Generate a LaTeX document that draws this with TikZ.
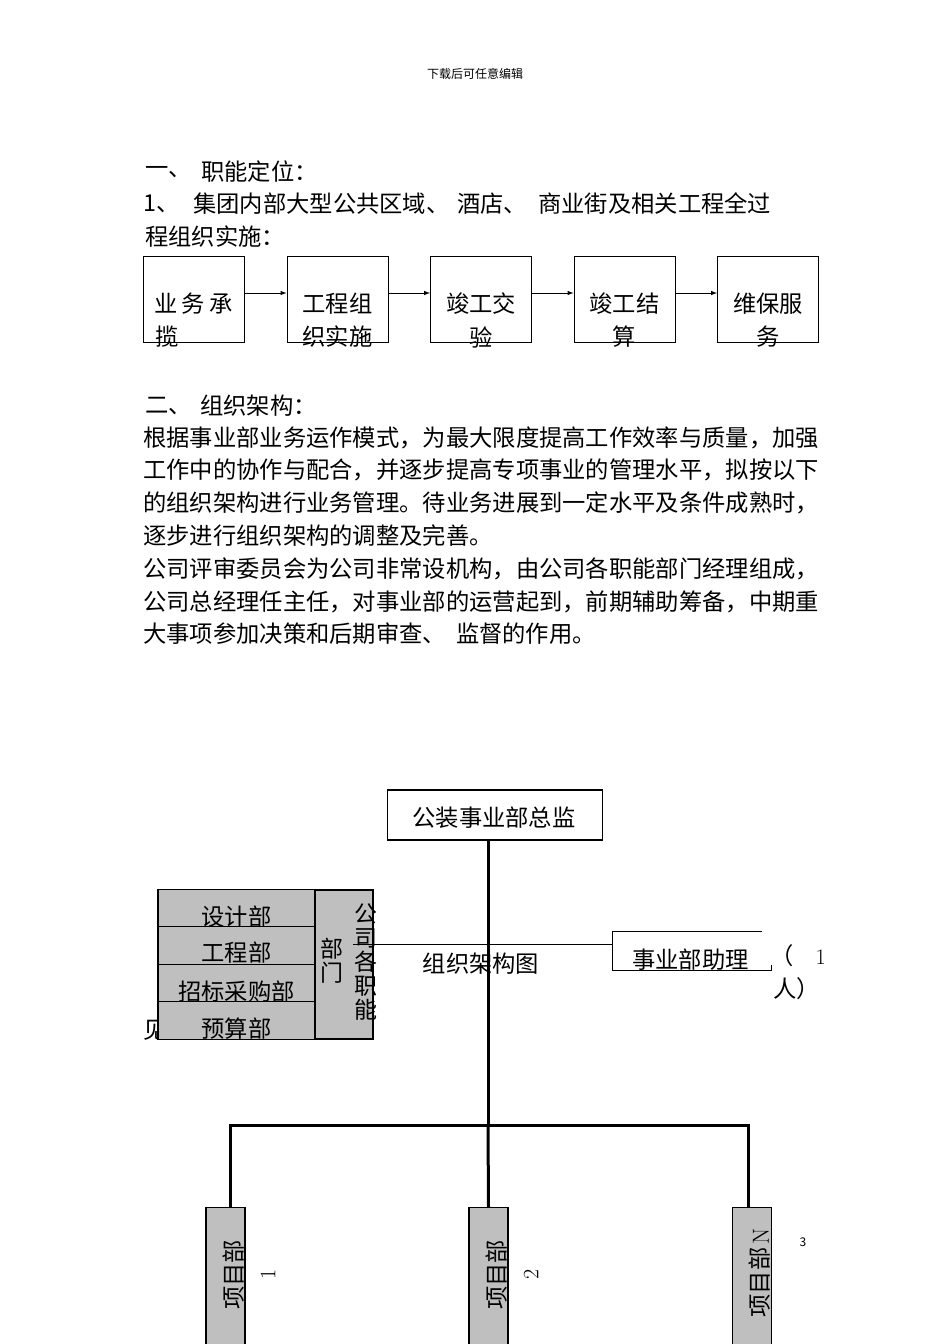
\documentclass[tikz,border=0pt]{standalone}
\usepackage{fontspec}
\newfontfamily\cjk{Noto Sans CJK SC}
\usetikzlibrary{positioning}

\tikzset{
  txt/.style={font=\cjk\fontsize{23.3}{24}\selectfont,inner sep=0pt},
  vtxt/.style={font=\cjk\fontsize{23}{24}\selectfont,inner sep=0pt,align=center},
  flowbox/.style={draw,line width=1pt,minimum width=101pt,minimum height=86pt,inner sep=0pt},
  graybox/.style={draw,line width=1.2pt,fill=black!25,inner sep=0pt},
  bus/.style={line width=3pt},
}

\begin{document}
\begin{tikzpicture}[x=1pt,y=-1pt]
  \path[use as bounding box,fill=white] (0,0) rectangle (950,1344);
  %% Header
  \node[font=\cjk\fontsize{12}{12}\selectfont,inner sep=0pt] (head) at (475,74) {下载后可任意编辑};
  %% Section one
  \node[txt,anchor=west] (s1num) at (145,172) {一、};
  \node[txt,anchor=west] (s1tit) at (201,172) {职能定位：};
  \node[txt,anchor=west] (l1a) at (143,204) {1、};
  \node[txt,anchor=west] (l1b) at (193,204) {集团内部大型公共区域、};
  \node[txt,anchor=west] (l1c) at (457,204) {酒店、};
  \node[txt,anchor=west] (l1d) at (538,204) {商业街及相关工程全过};
  \node[txt,anchor=west] (l2) at (145,237) {程组织实施：};
  %% Flow of work
  \foreach \i/\xc in {1/193.5,2/337.5,3/481,4/624.5,5/768}
    \node[flowbox] (f\i) at (\xc,299) {};
  \foreach \i/\j in {1/2,2/3,3/4,4/5}
    \draw[-latex,line width=1pt] ([yshift=6pt]f\i.east) -- ([yshift=6pt]f\j.west);
  \node[txt] (f1a) at (f1 |- 0,304) {业\hspace{4pt}务\hspace{4pt}承};
  \node[txt,anchor=west] (f1b) at (155,337) {揽};
  \node[txt] (f2a) at (f2 |- 0,304) {工程组};
  \node[txt] (f2b) at (f2 |- 0,337) {织实施};
  \node[txt] (f3a) at (f3 |- 0,304) {竣工交};
  \node[txt] (f3b) at (f3 |- 0,337) {验};
  \node[txt] (f4a) at (f4 |- 0,304) {竣工结};
  \node[txt] (f4b) at (f4 |- 0,337) {算};
  \node[txt] (f5a) at (f5 |- 0,304) {维保服};
  \node[txt] (f5b) at (f5 |- 0,337) {务};
  %% Section two
  \node[txt,anchor=west] (s2num) at (145,406) {二、};
  \node[txt,anchor=west] (s2tit) at (200,406) {组织架构：};
  \node[txt,anchor=west] (p1) at (143,438) {根据事业部业务运作模式，为最大限度提高工作效率与质量，加强};
  \node[txt,anchor=west] (p2) at (143,470) {工作中的协作与配合，并逐步提高专项事业的管理水平，拟按以下};
  \node[txt,anchor=west] (p3) at (143,503) {的组织架构进行业务管理。待业务进展到一定水平及条件成熟时，};
  \node[txt,anchor=west] (p4) at (143,536) {逐步进行组织架构的调整及完善。};
  \node[txt,anchor=west] (p5) at (143,569) {公司评审委员会为公司非常设机构，由公司各职能部门经理组成，};
  \node[txt,anchor=west] (p6) at (143,602) {公司总经理任主任，对事业部的运营起到，前期辅助筹备，中期重};
  \node[txt,anchor=west] (p7) at (143,634) {大事项参加决策和后期审查、\hspace{10pt}监督的作用。};
  %% Org chart: chief
  \node[draw,line width=1.2pt,minimum width=215pt,minimum height=50pt,inner sep=0pt] (chief) at (495,815) {};
  \node[txt] (chieft) at (494,818) {公装事业部总监};
  %% Company departments
  \node[txt,anchor=west] (see) at (143,1030) {见};
  \foreach \i/\yc in {1/908.5,2/945.5,3/983,4/1020.5}
    \node[graybox,minimum width=157pt,minimum height=37.5pt] (d\i) at (236.5,\yc) {};
  \node[graybox,minimum width=58pt,minimum height=149pt] (funcs) at (344,964.5) {};
  \node[txt] (d1t) at (236.5,917) {设计部};
  \node[txt] (d2t) at (236.5,953) {工程部};
  \node[txt] (d3t) at (236.5,992) {招标采购部};
  \node[txt] (d4t) at (236.5,1029) {预算部};
  \node[vtxt] (funcsa) at (332,961) {部\\门};
  \node[vtxt] (funcsb) at (366,962) {公\\司\\各\\职\\能};
  %% Assistant
  \node[minimum width=149pt,minimum height=38pt,inner sep=0pt] (asst) at (687.5,951) {};
  \draw[line width=1pt] (asst.north east) -- (asst.north west) -- (asst.south west)
    -- ([xshift=9pt]asst.south east) -- ([xshift=9pt,yshift=5pt]asst.south east);
  \node[txt] (asstt) at (690.5,960) {事业部助理};
  \node[txt,anchor=west] (cnt1) at (770,956) {（\hspace{22pt}{\rmfamily\fontsize{22}{22}\selectfont 1}};
  \node[txt,anchor=west] (cnt2) at (773,989) {人）};
  \coordinate (link) at (353,944);
  \draw[line width=1pt] (link) -- (link -| asst.west);
  \node[txt] (chart) at (481,964) {组织架构图};
  %% Project departments
  \foreach \i/\xc in {1/225.5,2/488.5,3/752}
    \node[graybox,minimum width=39pt,minimum height=140pt,anchor=north] (pm\i) at (\xc,1207) {};
  \coordinate (hub) at (488,1125);
  \draw[bus] (chief.south -| hub) -- (hub);
  \draw[bus] ([xshift=4.5pt]pm1.north) -- ([xshift=4.5pt]pm1.north |- hub) -- ([xshift=-4pt]pm3.north |- hub) -- ([xshift=-4pt]pm3.north);
  \draw[bus] (hub) -- (pm2.north);
  \node[txt,rotate=90] (pm1t) at (234,1275) {项目部};
  \node[txt,rotate=90] (pm2t) at (497,1275) {项目部};
  \node[txt,rotate=90] (pm3t) at (760,1273) {项目部\hspace{3pt}{\rmfamily N}};
  \node[rotate=90,inner sep=0pt,font=\fontsize{22}{22}\selectfont] (pm1n) at (268,1274) {1};
  \node[rotate=90,inner sep=0pt,font=\fontsize{22}{22}\selectfont] (pm2n) at (531,1274) {2};
  \node[inner sep=0pt,font=\cjk\fontsize{12}{12}\selectfont] (page) at (803,1242) {3};
\end{tikzpicture}
\end{document}
